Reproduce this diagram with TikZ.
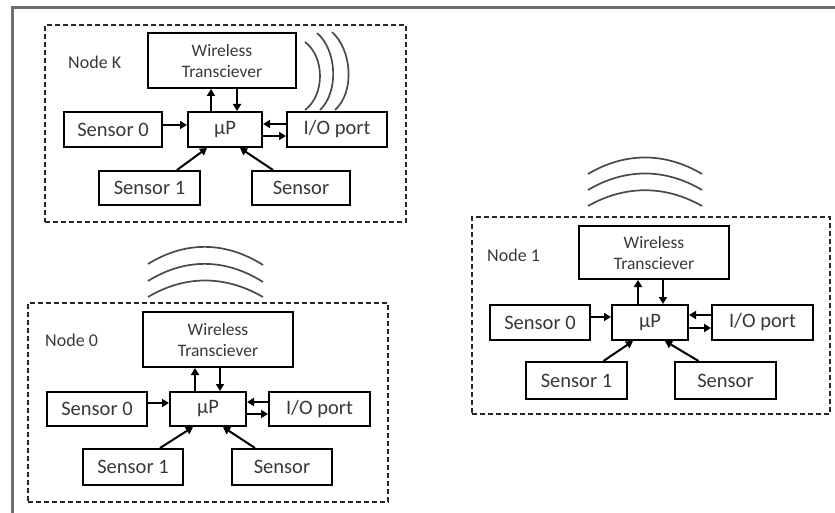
\documentclass[tikz,border=0pt]{standalone}
\usepackage{fontspec}
\setmainfont{Carlito}
\usetikzlibrary{arrows.meta}
\definecolor{txt}{HTML}{383838}
\definecolor{framec}{HTML}{6E6E6E}
\definecolor{wavec}{HTML}{4A4A4A}
\tikzset{
  box/.style={draw=black, line width=2pt, inner sep=0pt, text=txt, font=\fontsize{20.5}{24}\selectfont},
  wtbox/.style={box, align=center, font=\fontsize{17.5}{21}\selectfont},
  grp/.style={draw=black!85, line width=2pt, dash pattern=on 5pt off 3pt, inner sep=0pt},
  lbl/.style={anchor=west, inner sep=0pt, text=txt, font=\fontsize{18}{22}\selectfont},
  arr/.style={line width=2pt, -{Triangle[length=7pt,width=8pt]}},
  wave/.style={draw=wavec, line width=1.7pt},
  frame/.style={draw=framec, line width=3pt}
}
\begin{document}
\begin{tikzpicture}[x=1pt,y=-1pt]
\useasboundingbox (0,0) rectangle (835,513);
\draw[frame] (12,513) -- (12,8) -- (835,8);

% ---------------- Node K ----------------
\node[grp, minimum width=361pt, minimum height=197pt] (kgrp) at (225.5,123.5) {};
\node[lbl] (klbl) at (68,62) {Node K};
\node[wtbox, minimum width=148pt, minimum height=55pt] (kwt) at (222,60.5) {Wireless\\Transciever};
\node[box, minimum width=98pt, minimum height=35pt] (ks0) at (113,129.5) {Sensor 0};
\node[box, minimum width=74pt, minimum height=35pt] (kmp) at (225,129.5) {µP};
\node[box, minimum width=100pt, minimum height=35pt] (kio) at (337,129.5) {I/O port};
\node[box, minimum width=101pt, minimum height=34pt] (ks1) at (149.5,188) {Sensor 1};
\node[box, minimum width=98pt, minimum height=34pt] (ks) at (301,188) {Sensor};
\draw[arr] ([xshift=-14pt]kmp.north) -- ([xshift=-14pt]kmp.north |- kwt.south);
\draw[arr] ([xshift=12pt]kmp.north |- kwt.south) -- ([xshift=12pt]kmp.north);
\draw[arr] ([yshift=4.5pt]ks0.east) -- ([yshift=4.5pt]ks0.east -| kmp.west);
\draw[arr] ([yshift=5.5pt]kio.west) -- ([yshift=5.5pt]kio.west -| kmp.east);
\draw[arr] ([yshift=-6.5pt]kmp.east) -- ([yshift=-6.5pt]kmp.east -| kio.west);
\draw[arr] ([xshift=27.5pt]ks1.north) -- ([xshift=-18pt]kmp.south);
\draw[arr] ([xshift=-28pt]ks.north) -- ([xshift=15pt]kmp.south);
\draw[wave] (305,110) .. controls (325,95) and (325,57) .. (305,42);
\draw[wave] (320,110) .. controls (339,92) and (337,50) .. (317,33);
\draw[wave] (335,110) .. controls (355,92) and (352,50) .. (332,32);

% ---------------- Node 0 ----------------
\node[grp, minimum width=360pt, minimum height=199pt] (ogrp) at (208,402.5) {};
\node[lbl] (olbl) at (45,340) {Node 0};
\node[wtbox, minimum width=150pt, minimum height=55pt] (owt) at (218,339.5) {Wireless\\Transciever};
\node[box, minimum width=100pt, minimum height=34pt] (os0) at (97,409) {Sensor 0};
\node[box, minimum width=76pt, minimum height=34pt] (omp) at (208,409) {µP};
\node[box, minimum width=101pt, minimum height=34pt] (oio) at (319.5,409) {I/O port};
\node[box, minimum width=100pt, minimum height=36pt] (os1) at (133,467) {Sensor 1};
\node[box, minimum width=100pt, minimum height=36pt] (os) at (282,467) {Sensor};
\draw[arr] ([xshift=-13pt]omp.north) -- ([xshift=-13pt]omp.north |- owt.south);
\draw[arr] ([xshift=12pt]omp.north |- owt.south) -- ([xshift=12pt]omp.north);
\draw[arr] ([yshift=6pt]os0.east) -- ([yshift=6pt]os0.east -| omp.west);
\draw[arr] ([yshift=7pt]oio.west) -- ([yshift=7pt]oio.west -| omp.east);
\draw[arr] ([yshift=-5pt]omp.east) -- ([yshift=-5pt]omp.east -| oio.west);
\draw[arr] ([xshift=27pt]os1.north) -- ([xshift=-15pt]omp.south);
\draw[arr] ([xshift=-27pt]os.north) -- ([xshift=15pt]omp.south);
\draw[wave] (148,264) .. controls (185,241) and (225,241) .. (263,265);
\draw[wave] (148,281) .. controls (185,258) and (225,258) .. (263,282);
\draw[wave] (148,297) .. controls (185,275) and (225,275) .. (263,297);

% ---------------- Node 1 ----------------
\node[grp, minimum width=358pt, minimum height=197pt] (ngrp) at (651,315.5) {};
\node[lbl] (nlbl) at (487,255) {Node 1};
\node[wtbox, minimum width=150pt, minimum height=53pt] (nwt) at (654,252.5) {Wireless\\Transciever};
\node[box, minimum width=100pt, minimum height=35pt] (ns0) at (540,322.5) {Sensor 0};
\node[box, minimum width=76pt, minimum height=35pt] (nmp) at (650,322.5) {µP};
\node[box, minimum width=101pt, minimum height=35pt] (nio) at (762.5,322.5) {I/O port};
\node[box, minimum width=101pt, minimum height=37pt] (ns1) at (576.5,380.5) {Sensor 1};
\node[box, minimum width=101pt, minimum height=37pt] (ns) at (725.5,380.5) {Sensor};
\draw[arr] ([xshift=-12pt]nmp.north) -- ([xshift=-12pt]nmp.north |- nwt.south);
\draw[arr] ([xshift=13pt]nmp.north |- nwt.south) -- ([xshift=13pt]nmp.north);
\draw[arr] ([yshift=5.5pt]ns0.east) -- ([yshift=5.5pt]ns0.east -| nmp.west);
\draw[arr] ([yshift=7.5pt]nio.west) -- ([yshift=7.5pt]nio.west -| nmp.east);
\draw[arr] ([yshift=-5.5pt]nmp.east) -- ([yshift=-5.5pt]nmp.east -| nio.west);
\draw[arr] ([xshift=27pt]ns1.north) -- ([xshift=-17pt]nmp.south);
\draw[arr] ([xshift=-27pt]ns.north) -- ([xshift=15pt]nmp.south);
\draw[wave] (588,174) .. controls (625,152) and (665,152) .. (702,174);
\draw[wave] (588,190) .. controls (625,168) and (665,168) .. (702,190);
\draw[wave] (588,206) .. controls (625,185) and (665,185) .. (702,206);
\end{tikzpicture}
\end{document}
